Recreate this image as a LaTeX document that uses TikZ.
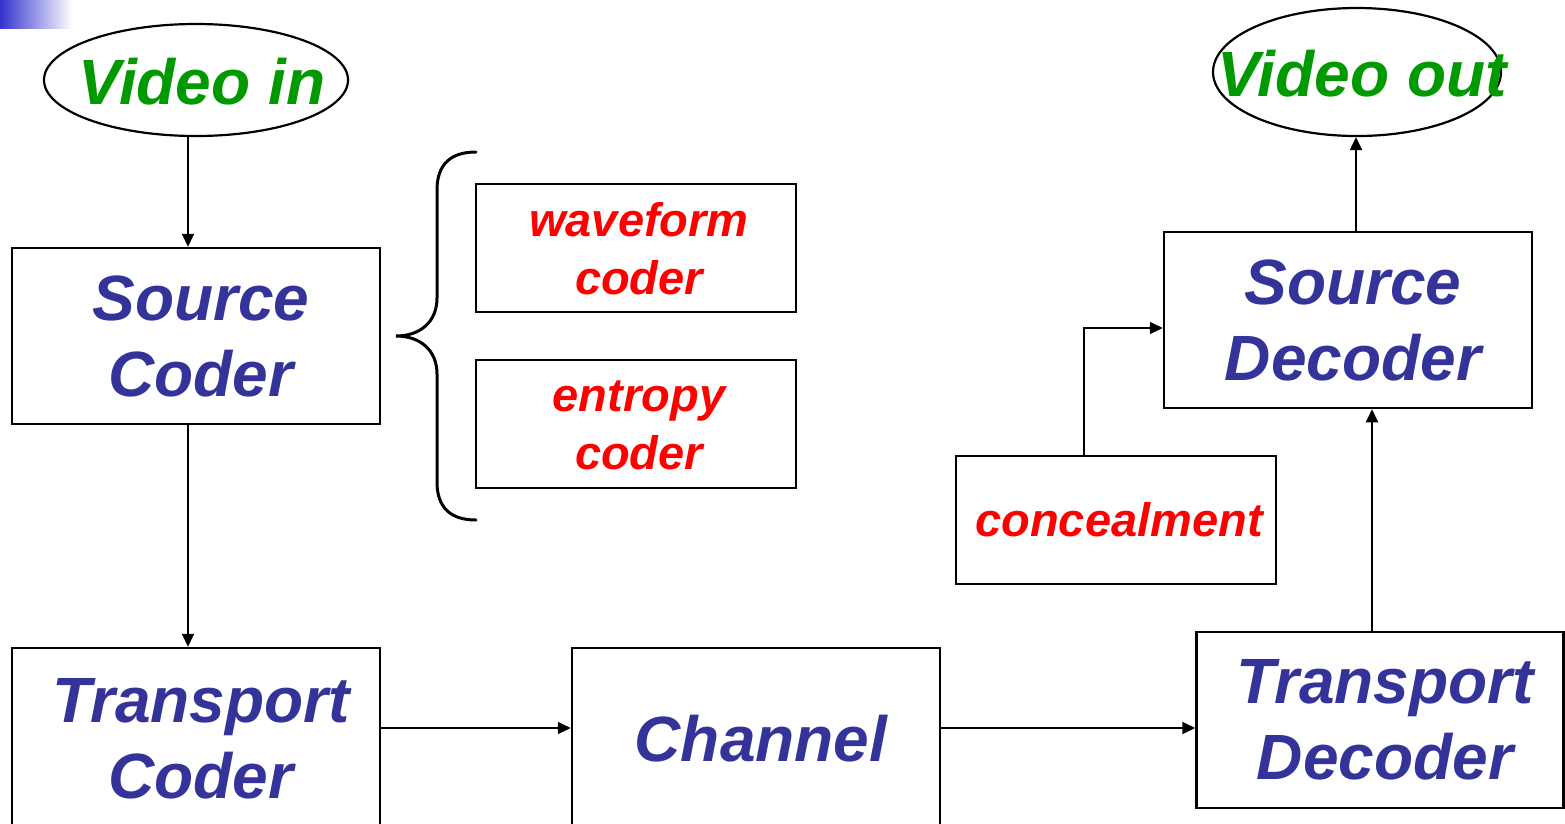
\documentclass[tikz,border=0pt]{standalone}
\usepackage{fontspec}
\setmainfont{Liberation Sans}
\usetikzlibrary{shapes.geometric,arrows.meta}
\definecolor{cblue}{HTML}{333399}
\definecolor{cgreen}{HTML}{009900}
\definecolor{cred}{HTML}{FF0000}
\definecolor{gradblue}{HTML}{3333CC}
\begin{document}
\begin{tikzpicture}[x=1pt,y=-1pt,
  blk/.style={draw,line width=2.5pt,inner sep=0pt},
  btxt/.style={inner sep=0pt,align=center,text=cblue,
    font=\fontsize{64}{76}\selectfont\bfseries\itshape},
  sub/.style={draw,line width=2.5pt,inner sep=0pt,
    minimum width=320pt,minimum height=128pt},
  rtxt/.style={inner sep=0pt,align=center,text=cred,
    font=\fontsize{47}{58}\selectfont\bfseries\itshape},
  vid/.style={ellipse,draw,line width=2.2pt,inner sep=0pt},
  vtxt/.style={inner sep=0pt,text=cgreen,
    font=\fontsize{64}{70}\selectfont\bfseries\itshape},
  arr/.style={line width=2pt,-{Triangle[length=13pt,width=12pt]}}]
\useasboundingbox (0,0) rectangle (1565,823);
\shade[left color=gradblue,right color=white] (0,0) rectangle (72,28);

\node[vid,minimum width=304pt,minimum height=112pt] (vin) at (196,80) {};
\node[vtxt] (vint) at (202,82) {Video in};
\node[vid,minimum width=288pt,minimum height=128pt] (vout) at (1357,72) {};
\node[vtxt] (voutt) at (1362,74) {Video out};

\node[blk,minimum width=368pt,minimum height=176pt] (sc) at (196,336) {};
\node[btxt] (sct) at (201,336) {Source\\Coder};
\node[blk,minimum width=368pt,minimum height=182pt] (tc) at (196,739) {};
\node[btxt] (tct) at (201,739) {Transport\\Coder};
\node[blk,minimum width=368pt,minimum height=182pt] (ch) at (756,739) {};
\node[btxt] (cht) at (761,739) {Channel};
\node[blk,minimum width=367pt,minimum height=176pt] (td) at (1380,720) {};
\node[btxt] (tdt) at (1385,720) {Transport\\Decoder};
\node[blk,minimum width=368pt,minimum height=176pt] (sd) at (1348,320) {};
\node[btxt] (sdt) at (1353,320) {Source\\Decoder};

\node[sub] (wc) at (636,248) {};
\node[rtxt] (wct) at (639,249) {waveform\\coder};
\node[sub] (ec) at (636,424) {};
\node[rtxt] (ect) at (639,425) {entropy\\coder};
\node[sub] (co) at (1116,520) {};
\node[rtxt] (cot) at (1119,520) {concealment};

% brace
\draw[line width=3pt,line cap=round]
  (476,152) .. controls (450,152) and (437,165) .. (437,190)
  -- (437,298) .. controls (437,322) and (420,336) .. (396,336)
  .. controls (420,336) and (437,350) .. (437,374)
  -- (437,482) .. controls (437,507) and (450,520) .. (476,520);

\coordinate (a1) at (188,136);
\draw[arr] (vin.south -| a1) -- (sc.north -| a1);
\draw[arr] (sc.south -| a1) -- (tc.north -| a1);
\draw[arr] (tc.east |- 0,728) -- (ch.west |- 0,728);
\draw[arr] (ch.east |- 0,728) -- (td.west |- 0,728);
\draw[arr] (td.north -| 1372,0) -- (sd.south -| 1372,0);
\draw[arr] (sd.north -| 1356,0) -- (vout.south -| 1356,0);
\draw[arr] (co.north -| 1084,0) |- (sd.west |- 0,328);
\end{tikzpicture}
\end{document}
